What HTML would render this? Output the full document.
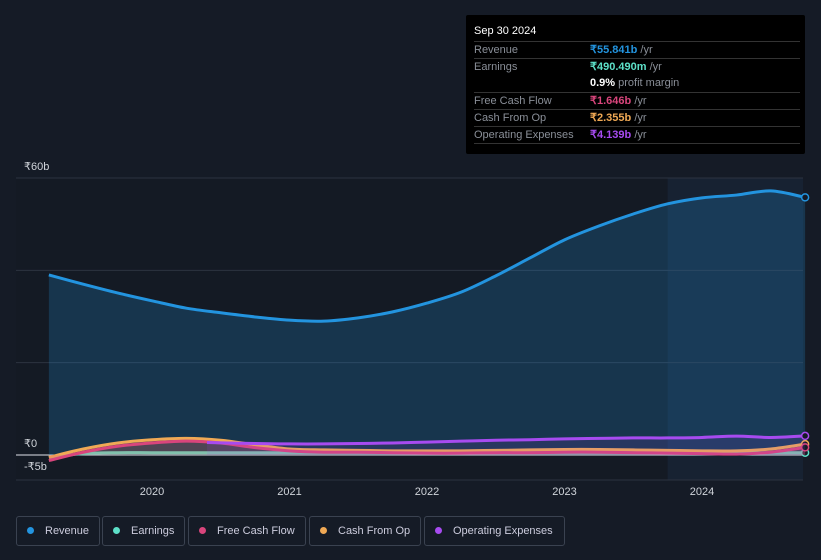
<!DOCTYPE html>
<html><head><meta charset="utf-8"><style>
body{margin:0;background:#151b26;font-family:"Liberation Sans","Noto Sans CJK SC",sans-serif;}
#wrap{position:relative;width:821px;height:560px;overflow:hidden;background:#151b26;}
#tip{position:absolute;left:466px;top:15px;width:339px;height:139px;background:#000;border-radius:2px;font-size:11px;color:#8a8f98;}
#tip .h{position:absolute;left:8px;top:10px;color:#fff;font-size:11px;}
.row{position:absolute;left:8px;width:326px;border-top:1px solid #333;height:17px;line-height:17px;}
.row span.v{position:absolute;left:116px;font-weight:bold;}
.row span.u{font-weight:normal;color:#8a8f98;}
.lg{position:absolute;top:516px;box-sizing:border-box;border:1px solid #3a4250;border-radius:3px;height:30px;line-height:28px;padding-left:10px;color:#ccd;font-size:11px;white-space:nowrap;}
.lg i{display:inline-block;width:7px;height:7px;border-radius:50%;margin-right:11px;vertical-align:0px;}
</style></head><body>
<div id="wrap">
<svg id="svg" width="821" height="560" style="position:absolute;left:0;top:0"></svg>
<div id="tip">
<div class="h">Sep 30 2024</div>
<div class="row" style="top:26px">Revenue<span class="v" style="color:#2394df">₹55.841b <span class="u">/yr</span></span></div>
<div class="row" style="top:43px">Earnings<span class="v" style="color:#5de0c8">₹490.490m <span class="u">/yr</span></span></div>
<div class="row" style="top:60px;border-top:none"><span class="v" style="color:#fff">0.9% <span class="u">profit margin</span></span></div>
<div class="row" style="top:77px">Free Cash Flow<span class="v" style="color:#d9457c">₹1.646b <span class="u">/yr</span></span></div>
<div class="row" style="top:94px">Cash From Op<span class="v" style="color:#f0a955">₹2.355b <span class="u">/yr</span></span></div>
<div class="row" style="top:111px">Operating Expenses<span class="v" style="color:#a74bf0">₹4.139b <span class="u">/yr</span></span></div>
<div class="row" style="top:128px;height:0"></div>
</div>
<div class="lg" style="left:16px;width:84px"><i style="background:#2394df"></i>Revenue</div>
<div class="lg" style="left:102px;width:83px"><i style="background:#5de0c8"></i>Earnings</div>
<div class="lg" style="left:188px;width:118px"><i style="background:#d9457c"></i>Free Cash Flow</div>
<div class="lg" style="left:309px;width:112px"><i style="background:#f0a955"></i>Cash From Op</div>
<div class="lg" style="left:424px;width:141px"><i style="background:#a74bf0"></i>Operating Expenses</div>
</div>
<script>
const dates=[2019.25,2019.5,2019.75,2020,2020.25,2020.5,2020.75,2021,2021.25,2021.5,2021.75,2022,2022.25,2022.5,2022.75,2023,2023.25,2023.5,2023.75,2024,2024.25,2024.5,2024.75];
const revenue=[39.0,37.0,35.1,33.4,31.8,30.8,29.9,29.2,29.0,29.7,31.0,32.9,35.3,38.8,42.7,46.6,49.6,52.2,54.4,55.7,56.3,57.2,55.8];
const earnings=[-0.5,0.3,0.5,0.5,0.5,0.5,0.5,0.5,0.5,0.5,0.5,0.5,0.5,0.5,0.5,0.5,0.5,0.5,0.5,0.5,0.5,0.5,0.49];
const fcf=[-1.2,0.6,1.9,2.6,3.0,2.6,1.6,0.9,0.6,0.6,0.5,0.4,0.4,0.5,0.5,0.6,0.6,0.5,0.4,0.3,0.2,0.6,1.65];
const cfo=[-0.5,1.3,2.6,3.3,3.6,3.2,2.2,1.3,1.1,1.0,0.9,0.9,0.9,1.0,1.1,1.2,1.2,1.1,1.0,0.9,0.9,1.3,2.36];
const opexDates=[2020.4,2020.75,2021,2021.25,2021.5,2021.75,2022,2022.25,2022.5,2022.75,2023,2023.25,2023.5,2023.75,2024,2024.25,2024.5,2024.75];
const opex=[2.7,2.5,2.4,2.4,2.5,2.6,2.8,3.0,3.2,3.3,3.5,3.6,3.7,3.7,3.8,4.1,3.8,4.14];
const yTicks=[60,40,20,0];
const yLabels={60:"₹60b",0:"₹0","-5":"-₹5b"};
const xTicks=[2020,2021,2022,2023,2024];
const X=d=>152+(d-2020)*137.5;
const Y=v=>455-v*4.617;
const svg=document.getElementById('svg');
const NS='http://www.w3.org/2000/svg';
function mk(t,a){const e=document.createElementNS(NS,t);for(const k in a)e.setAttribute(k,a[k]);svg.appendChild(e);return e;}
let e;
e=mk('rect',{x:16,y:178,width:787,height:302,fill:'#141a24'});

e=mk('rect',{x:X(2023.75),y:178,width:803-X(2023.75),height:302,fill:'#172232'});

yTicks.forEach(v=>{
 e=mk('line',{x1:16,x2:803,y1:Y(v),y2:Y(v),stroke:v==0?'#dfe3ea':'#2c3340','stroke-width':1});
 });
const labOff={60:-8,0:-8,"-5":-8};
Object.keys(yLabels).forEach(k=>{const v=+k;
 e=mk('text',{x:24,y:Y(v)+labOff[k],fill:'#d0d4da','font-size':11});e.textContent=yLabels[k];
 });
e=mk('line',{x1:16,x2:803,y1:480,y2:480,stroke:'#2c3340'});
xTicks.forEach(d=>{e=mk('text',{x:X(d),y:495,fill:'#d0d4da','font-size':11,'text-anchor':'middle'});e.textContent=d;
 });
function path(ds,vs){const P=ds.map((d,i)=>[X(d),Y(vs[i])]);let p='M'+P[0][0]+','+P[0][1];
 for(let i=0;i<P.length-1;i++){const p0=P[Math.max(0,i-1)],p1=P[i],p2=P[i+1],p3=P[Math.min(P.length-1,i+2)];
  const c1=[p1[0]+(p2[0]-p0[0])/6,p1[1]+(p2[1]-p0[1])/6],c2=[p2[0]-(p3[0]-p1[0])/6,p2[1]-(p3[1]-p1[1])/6];
  p+=' C'+c1[0]+','+c1[1]+' '+c2[0]+','+c2[1]+' '+p2[0]+','+p2[1];}return p;}
function series(ds,vs,col,name,fillOp){
 const p=path(ds,vs);
 e=mk('path',{d:p+' L'+X(ds[ds.length-1])+','+Y(0)+' L'+X(ds[0])+','+Y(0)+'Z',fill:col,'fill-opacity':fillOp});
 
 e=mk('path',{d:p,fill:'none',stroke:col,'stroke-width':3});
 
 e=mk('circle',{cx:X(ds[ds.length-1]),cy:Y(vs[vs.length-1]),r:3.5,fill:'#151b26',stroke:col,'stroke-width':1.5});
 }
series(dates,revenue,'#2394df','revenue',0.22);
series(dates,earnings,'#5de0c8','earnings',0.15);
series(dates,cfo,'#f0a955','cash-from-op',0.15);
series(dates,fcf,'#d9457c','free-cash-flow',0.15);
series(opexDates,opex,'#a74bf0','operating-expenses',0.12);
</script>
</body></html>
